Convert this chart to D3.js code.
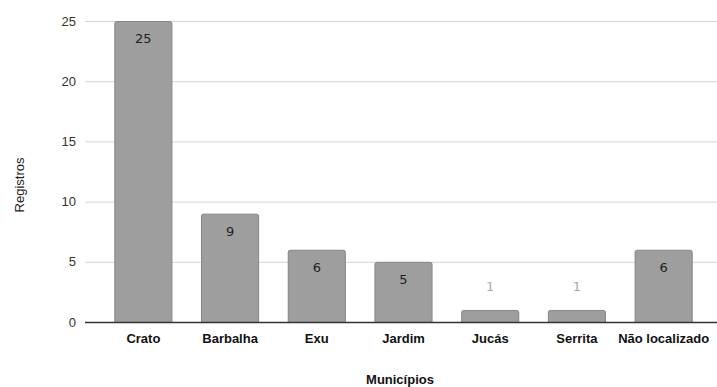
<!DOCTYPE html>
<html>
<head>
<meta charset="utf-8">
<script src="https://cdn.jsdelivr.net/npm/d3@7"></script>
<style>
  body { margin: 0; background: #fff; }
  svg { font-family: Arial, "Liberation Sans", sans-serif; }
</style>
</head>
<body>
<div id="chart"></div>
<script>
// Data
var municipios = ["Crato", "Barbalha", "Exu", "Jardim", "Jucás", "Serrita", "Não localizado"];
var registros = [25, 9, 6, 5, 1, 1, 6];
var yTicks = [0, 5, 10, 15, 20, 25];

var w = 717, h = 387;
var plotLeft = 85, plotRight = 717, plotTop = 21, plotBottom = 322;

var svg = d3.select("#chart").append("svg")
    .attr("width", w)
    .attr("height", h);

var x = d3.scaleBand()
    .domain(municipios)
    .range([100, 707])
    .paddingInner(0.33)
    .paddingOuter(0.165);

var y = d3.scaleLinear()
    .domain([0, 25])
    .range([plotBottom, plotTop]);

// Gridlines
svg.append("g")
    .selectAll("line")
    .data(yTicks.filter(function (d) { return d > 0; }))
    .enter().append("line")
    .attr("x1", plotLeft).attr("x2", plotRight)
    .attr("y1", function (d) { return y(d) + 0.5; })
    .attr("y2", function (d) { return y(d) + 0.5; })
    .attr("stroke", "#d4d4d4")
    .attr("stroke-width", 1);

// Y axis labels
var yAxis = svg.append("g")
    .attr("transform", "translate(" + plotLeft + ",0)")
    .call(d3.axisLeft(y).tickValues(yTicks).tickSize(0).tickPadding(9));
yAxis.select(".domain").remove();
yAxis.selectAll("text")
    .attr("font-size", 13)
    .attr("fill", "#333")
    .attr("font-family", "Arial, 'Liberation Sans', sans-serif");

// Bars
svg.append("g")
    .selectAll("path")
    .data(municipios)
    .enter().append("path")
    .attr("d", function (d, i) {
        var x0 = x(d) + 0.5, x1 = x(d) + x.bandwidth() - 0.5;
        var y0 = y(registros[i]) + 0.5, y1 = y(0);
        var r = 2;
        return "M" + x0 + "," + y1 +
            "L" + x0 + "," + (y0 + r) +
            "Q" + x0 + "," + y0 + " " + (x0 + r) + "," + y0 +
            "L" + (x1 - r) + "," + y0 +
            "Q" + x1 + "," + y0 + " " + x1 + "," + (y0 + r) +
            "L" + x1 + "," + y1;
    })
    .attr("fill", "#9e9e9e")
    .attr("stroke", "#858585")
    .attr("stroke-width", 1);

// Value labels
svg.append("g")
    .selectAll("text")
    .data(municipios)
    .enter().append("text")
    .attr("x", function (d) { return x(d) + x.bandwidth() / 2; })
    .attr("y", function (d, i) {
        var v = registros[i];
        return v >= 3 ? y(v) + 22 : y(v) - 19;
    })
    .attr("text-anchor", "middle")
    .attr("font-size", 13)
    .attr("font-family", "'DejaVu Sans', sans-serif")
    .attr("fill", function (d, i) { return registros[i] >= 3 ? "#222" : "#aaa"; })
    .text(function (d, i) { return registros[i]; });

// Baseline
svg.append("line")
    .attr("x1", plotLeft).attr("x2", plotRight)
    .attr("y1", plotBottom + 0.5).attr("y2", plotBottom + 0.5)
    .attr("stroke", "#333")
    .attr("stroke-width", 1.3);

// X axis labels
var xAxis = svg.append("g")
    .attr("transform", "translate(0," + plotBottom + ")")
    .call(d3.axisBottom(x).tickSize(0).tickPadding(12));
xAxis.select(".domain").remove();
xAxis.selectAll("text")
    .attr("font-size", 13)
    .attr("font-weight", "bold")
    .attr("fill", "#111")
    .attr("font-family", "Arial, 'Liberation Sans', sans-serif");

// Axis titles
svg.append("text")
    .attr("x", 400)
    .attr("y", 384)
    .attr("text-anchor", "middle")
    .attr("font-size", 13)
    .attr("font-weight", "bold")
    .attr("fill", "#111")
    .text("Municípios");

svg.append("text")
    .attr("transform", "translate(24,185) rotate(-90)")
    .attr("text-anchor", "middle")
    .attr("font-size", 13)
    .attr("fill", "#222")
    .text("Registros");
</script>
</body>
</html>
